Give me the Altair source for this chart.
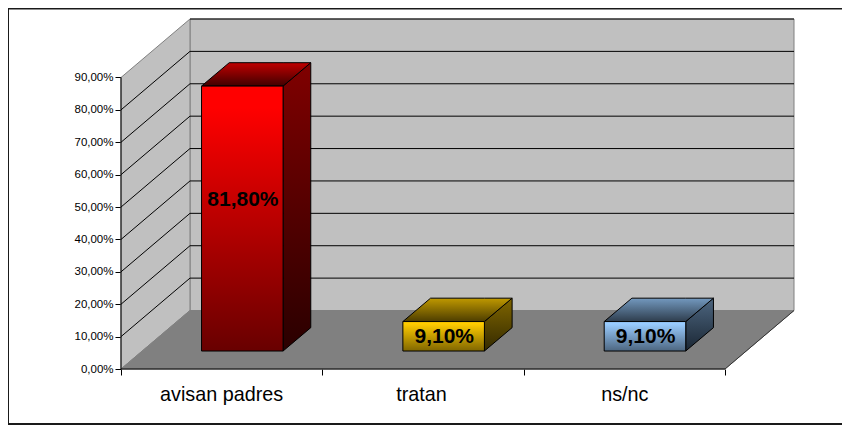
import altair as alt
import pandas as pd

categories = ["avisan padres", "tratan", "ns/nc"]
values = [81.8, 9.1, 9.1]
value_labels = ["81,80%", "9,10%", "9,10%"]
label_heights = [52.3, 10.0, 10.0]
y_ticks = [0, 10, 20, 30, 40, 50, 60, 70, 80, 90]
x_ticks = [0, 0.497, 1, 1.49, 2, 2.5, 3]

front_stops = [["#ff0000", "#ff0000", "#680000"], ["#ffcc00", "#ffcc00", "#806600"], ["#99ccff", "#99ccff", "#4d6680"]]
side_stops = [["#800000", "#2a0000"], ["#806600", "#332900"], ["#4d6680", "#1a2633"]]
top_stops = [["#c00000", "#400000"], ["#c09900", "#4d3d00"], ["#7399bf", "#2e3d4d"]]
front_offsets = [0, 0.08, 1]

DX, DY = 0.3427, 18.06          # depth of the chart box
BX, BW, BB = 0.400, 0.405, 5.55 # bar inset, width, floor inset
BDX, BDY = 0.1376, 7.22         # depth of a bar
XMAX, YMAX = 3 + DX, 90 + DY

xs = alt.Scale(domain=[0, XMAX], nice=False, zero=False)
ys = alt.Scale(domain=[0, YMAX], nice=False, zero=False)
X = lambda **k: alt.X("x:Q", scale=xs, axis=None, **k)
Y = lambda **k: alt.Y("y:Q", scale=ys, axis=None, **k)


def area(points, fill, stroke="#000000", width=1.0):
    df = pd.DataFrame(points, columns=["x", "y", "y2"])
    return alt.Chart(df).mark_area(
        fill=fill, stroke=stroke, strokeWidth=width, interpolate="linear", opacity=1
    ).encode(X(), Y(), y2="y2:Q")


def grad(colors, offsets=None):
    n = len(colors) - 1
    offs = offsets or [i / n for i in range(n + 1)]
    return alt.Gradient(
        gradient="linear", x1=0, x2=0, y1=0, y2=1,
        stops=[alt.GradientStop(offset=o, color=c) for o, c in zip(offs, colors)],
    )


axis_x = alt.Axis(
    values=x_ticks, title=None, domain=False, grid=False, tickSize=6, tickColor="#000000",
    tickOpacity=alt.expr("datum.value % 1 === 0 ? 1 : 0"),
    labelExpr="datum.value === %r ? '%s' : datum.value === %r ? '%s' : datum.value === %r ? '%s' : ''"
    % (x_ticks[1], categories[0], x_ticks[3], categories[1], x_ticks[5], categories[2]),
    labelFontSize=19.8, labelFont="Liberation Sans", labelColor="#000000", labelPadding=9,
    labelOverlap=False, labelFlush=False,
)
axis_y = alt.Axis(
    values=y_ticks, title=None, domain=False, grid=False, tickSize=6, tickColor="#000000",
    labelExpr="replace(format(datum.value, '.2f'), '.', ',') + '%'",
    labelFontSize=11.5, labelFont="Liberation Sans", labelColor="#000000", labelPadding=2,
    labelOverlap=False, labelFlush=False,
)

layers = []

# Box: back wall, left wall, floor
layers.append(
    alt.Chart(pd.DataFrame({"x": [DX], "x2": [XMAX], "y": [DY], "y2": [YMAX]}))
    .mark_rect(fill="#c0c0c0", stroke="#808080", strokeWidth=1)
    .encode(alt.X("x:Q", scale=xs, axis=axis_x), alt.Y("y:Q", scale=ys, axis=axis_y), x2="x2:Q", y2="y2:Q")
)
layers.append(area([(0, 0, 90), (DX, DY, YMAX)], "#c0c0c0", "#808080"))
layers.append(area([(0, 0, 0), (DX, 0, DY), (3, 0, DY), (XMAX, DY, DY)], "#808080", "#808080"))

# Gridlines
grid_rows = [{"v": v, "x": 0, "y": v} for v in y_ticks[1:-1]] + [{"v": v, "x": DX, "y": v + DY} for v in y_ticks[1:-1]]
layers.append(
    alt.Chart(pd.DataFrame(grid_rows)).mark_line(color="#000000", strokeWidth=1)
    .encode(X(), Y(), detail="v:N")
)
back = pd.DataFrame([{"x": DX, "x2": XMAX, "y": v + DY} for v in y_ticks[1:]])
layers.append(
    alt.Chart(back).mark_rule(color="#000000", strokeWidth=1).encode(X(), x2="x2:Q", y=Y())
)

# Axis lines and right floor edge
layers.append(
    alt.Chart(pd.DataFrame({"x": [0], "y": [0], "y2": [90]})).mark_rule(color="#000000", strokeWidth=1)
    .encode(X(), Y(), y2="y2:Q")
)
layers.append(
    alt.Chart(pd.DataFrame({"x": [0], "x2": [3], "y": [0]})).mark_rule(color="#000000", strokeWidth=1)
    .encode(X(), x2="x2:Q", y=Y())
)
layers.append(
    alt.Chart(pd.DataFrame({"x": [3, XMAX], "y": [0, DY]})).mark_line(color="#333333", strokeWidth=1)
    .encode(X(), Y())
)

# Bars
for i, v in enumerate(values):
    x0, x1 = i + BX, i + BX + BW
    b, t = BB, BB + v
    layers.append(area([(x1, b, t), (x1 + BDX, b + BDY, t + BDY)], grad(side_stops[i])))
    layers.append(area([(x0, t, t), (x0 + BDX, t, t + BDY), (x1, t, t + BDY), (x1 + BDX, t + BDY, t + BDY)], grad(top_stops[i])))
    layers.append(
        alt.Chart(pd.DataFrame({"x": [x0], "x2": [x1], "y": [b], "y2": [t]}))
        .mark_rect(fill=grad(front_stops[i], front_offsets), stroke="#000000", strokeWidth=1)
        .encode(X(), x2="x2:Q", y=Y(), y2="y2:Q")
    )

# Value labels
lab = pd.DataFrame({
    "x": [i + BX + BW / 2 + 0.003 for i in range(3)],
    "y": label_heights,
    "t": value_labels,
})
layers.append(
    alt.Chart(lab).mark_text(
        font="Liberation Sans", fontSize=21, fontWeight="bold", color="#000000", align="center", baseline="middle"
    ).encode(X(), Y(), text="t:N")
)

# Outer frame (open on the right)
FC = "#1a1a1a"
layers.append(alt.Chart(pd.DataFrame({"a": [0]})).mark_rule(color=FC, strokeWidth=2).encode(
    x=alt.value(-113), y=alt.value(-11), y2=alt.value(405)))
layers.append(alt.Chart(pd.DataFrame({"a": [0]})).mark_rule(color=FC, strokeWidth=2).encode(
    x=alt.value(-113), x2=alt.value(721), y=alt.value(-10.5)))
layers.append(alt.Chart(pd.DataFrame({"a": [0]})).mark_rule(color=FC, strokeWidth=2).encode(
    x=alt.value(-113), x2=alt.value(721), y=alt.value(405)))

chart = (
    alt.layer(*layers)
    .resolve_axis(x="independent", y="independent")
    .properties(
        width=673, height=350,
        padding={"left": 113, "top": 11, "right": 48, "bottom": 56},
        autosize=alt.AutoSizeParams(type="none"),
        background="#ffffff",
    )
    .configure_view(stroke=None)
)
chart.save("out.html", embed_options={"renderer": "svg", "actions": False})
